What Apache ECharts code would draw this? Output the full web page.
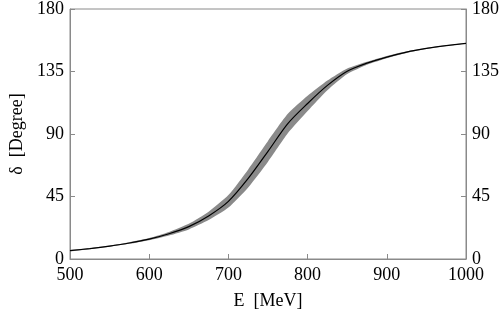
<!DOCTYPE html>
<html>
<head>
<meta charset="utf-8">
<script src="https://cdn.jsdelivr.net/npm/echarts@6/dist/echarts.min.js"></script>
<style>
html,body{margin:0;padding:0;background:#fff;}
#chart{width:502px;height:317px;}
</style>
</head>
<body>
<div id="chart"></div>
<script>
const energies     = [500, 525, 550, 575, 600, 625, 650, 675, 700, 725, 750, 775, 800, 825, 850, 875, 900, 925, 950, 975, 1000];
const phaseCentral = [6.0, 7.5, 9.3, 11.5, 14.3, 18.2, 23.3, 31.0, 41.5, 58.0, 77.5, 97.5, 112.0, 125.0, 135.2, 141.0, 145.4, 149.0, 151.6, 153.6, 155.3];
const bandLower    = [5.6, 7.1, 8.8, 10.9, 13.5, 16.9, 21.3, 28.0, 37.0, 51.5, 70.0, 90.5, 106.5, 121.5, 133.2, 139.9, 144.6, 148.4, 151.2, 153.3, 155.1];
const bandUpper    = [6.4, 7.9, 9.8, 12.1, 15.1, 19.5, 25.3, 34.0, 46.0, 64.5, 85.0, 104.5, 117.5, 128.5, 137.2, 142.1, 146.2, 149.6, 152.0, 153.9, 155.5];
const yTicks = [0, 45, 90, 135, 180];
const xTicks = [500, 600, 700, 800, 900, 1000];

const font = '"Liberation Serif", "Times New Roman", Times, serif';
const axisGray = '#8a8a8a';

const bandRows = energies.map((e, i) => [e, bandLower[i], bandUpper[i]]);
const centralPairs = energies.map((e, i) => [e, phaseCentral[i]]);

const chart = echarts.init(document.getElementById('chart'), null, {renderer: 'canvas'});

function yAxisDef(pos) {
  return {
    type: 'value', position: pos,
    min: yTicks[0], max: yTicks[yTicks.length - 1], interval: 45,
    axisLine: {show: true, lineStyle: {color: axisGray, width: 1}},
    axisTick: {show: true, inside: true, length: 5, lineStyle: {color: axisGray}},
    splitLine: {show: false},
    axisLabel: {color: '#000', fontFamily: font, fontSize: 18, margin: 6},
    name: pos === 'left' ? 'δ  [Degree]' : '',
    nameLocation: 'middle', nameGap: 44,
    nameTextStyle: {color: '#000', fontFamily: font, fontSize: 18}
  };
}

function renderBand(params, api) {
  if (params.dataIndex !== 0) return null;
  const upper = bandRows.map(r => api.coord([r[0], r[2]]));
  const lower = bandRows.map(r => api.coord([r[0], r[1]])).reverse();
  return {
    type: 'polygon',
    shape: {points: upper.concat(lower), smooth: 0.2},
    style: {fill: '#8a8a8a', stroke: 'none'},
    silent: true
  };
}

chart.setOption({
  animation: false,
  backgroundColor: '#fff',
  grid: {left: 63, right: 36, top: 9, bottom: 58, show: true, borderColor: axisGray, borderWidth: 1, containLabel: false},
  xAxis: {
    type: 'value', min: xTicks[0], max: xTicks[xTicks.length - 1], interval: 100,
    axisLine: {show: true, lineStyle: {color: axisGray, width: 1}},
    axisTick: {show: true, inside: true, length: 5, lineStyle: {color: axisGray}},
    splitLine: {show: false},
    axisLabel: {color: '#000', fontFamily: font, fontSize: 18, margin: 7, formatter: v => String(v)},
    name: 'E  [MeV]', nameLocation: 'middle', nameGap: 33,
    nameTextStyle: {color: '#000', fontFamily: font, fontSize: 18}
  },
  yAxis: [yAxisDef('left'), yAxisDef('right')],
  series: [
    {type: 'custom', renderItem: renderBand, data: bandRows, encode: {x: 0, y: [1, 2]}, silent: true, z: 2},
    {type: 'line', data: centralPairs, symbol: 'none', smooth: 0.3,
     lineStyle: {color: '#000', width: 1.2}, z: 5}
  ]
});
</script>
</body>
</html>
